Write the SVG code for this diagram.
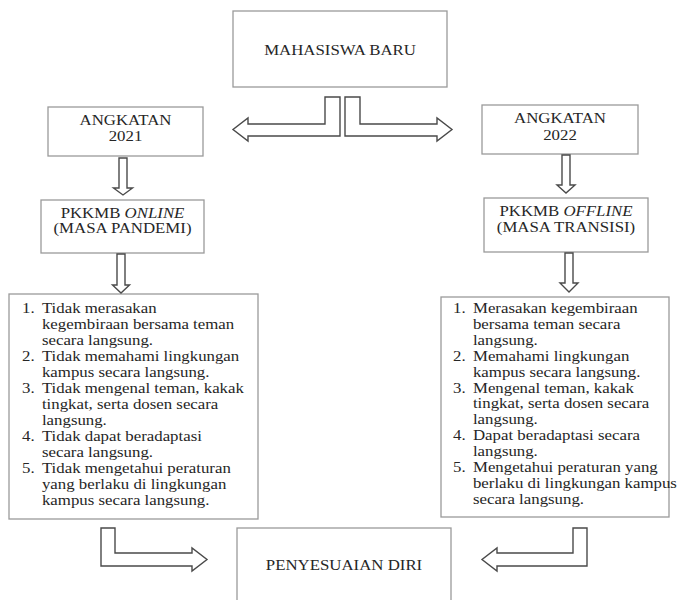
<svg xmlns="http://www.w3.org/2000/svg" width="679" height="600" viewBox="0 0 679 600">
<style>
.box{fill:#fff;stroke:#9a9a9a;stroke-width:1.3}
.t{font-family:"Liberation Serif","Times New Roman",serif;font-size:14.5px;fill:#262626}
.c{text-anchor:middle}
.arr{fill:#fff;stroke:#4a4a4a;stroke-width:1.4;stroke-linejoin:miter}
</style>
<rect width="679" height="600" fill="#fff"/>
<g id="mahasiswa-baru">
<rect class="box" x="233" y="11" width="214" height="76"/>
<text class="t c" transform="translate(340 55) scale(1.16 1)">MAHASISWA BARU</text>
</g>
<g id="angkatan-2021">
<rect class="box" x="48" y="107" width="155" height="49"/>
<text class="t c" transform="translate(125.5 125) scale(1.16 1)">ANGKATAN</text>
<text class="t c" transform="translate(125.5 141) scale(1.16 1)">2021</text>
</g>
<g id="pkkmb-online">
<rect class="box" x="41" y="200" width="163" height="53"/>
<text class="t c" transform="translate(122.5 218) scale(1.16 1)">PKKMB <tspan font-style="italic">ONLINE</tspan></text>
<text class="t c" transform="translate(122.5 233) scale(1.16 1)">(MASA PANDEMI)</text>
</g>
<g id="angkatan-2022">
<rect class="box" x="482" y="105" width="156" height="49"/>
<text class="t c" transform="translate(560 123) scale(1.16 1)">ANGKATAN</text>
<text class="t c" transform="translate(560 140) scale(1.16 1)">2022</text>
</g>
<g id="pkkmb-offline">
<rect class="box" x="484" y="198" width="164" height="54"/>
<text class="t c" transform="translate(566 216) scale(1.16 1)">PKKMB <tspan font-style="italic">OFFLINE</tspan></text>
<text class="t c" transform="translate(566 232) scale(1.16 1)">(MASA TRANSISI)</text>
</g>
<g id="list-online">
<rect class="box" x="9" y="294" width="249" height="225"/>
<text class="t" transform="translate(22 0) scale(1.16 1)">
<tspan x="0" y="313">1.</tspan><tspan x="17.2" y="313">Tidak merasakan</tspan>
<tspan x="17.2" y="329">kegembiraan bersama teman</tspan>
<tspan x="17.2" y="345">secara langsung.</tspan>
<tspan x="0" y="361">2.</tspan><tspan x="17.2" y="361">Tidak memahami lingkungan</tspan>
<tspan x="17.2" y="377">kampus secara langsung.</tspan>
<tspan x="0" y="393">3.</tspan><tspan x="17.2" y="393">Tidak mengenal teman, kakak</tspan>
<tspan x="17.2" y="409">tingkat, serta dosen secara</tspan>
<tspan x="17.2" y="425">langsung.</tspan>
<tspan x="0" y="441">4.</tspan><tspan x="17.2" y="441">Tidak dapat beradaptasi</tspan>
<tspan x="17.2" y="457">secara langsung.</tspan>
<tspan x="0" y="473">5.</tspan><tspan x="17.2" y="473">Tidak mengetahui peraturan</tspan>
<tspan x="17.2" y="489">yang berlaku di lingkungan</tspan>
<tspan x="17.2" y="505">kampus secara langsung.</tspan>
</text>
</g>
<g id="list-offline">
<rect class="box" x="441" y="297" width="228" height="220"/>
<text class="t" transform="translate(453 0) scale(1.16 1)">
<tspan x="0" y="313">1.</tspan><tspan x="17.2" y="313">Merasakan kegembiraan</tspan>
<tspan x="17.2" y="329">bersama teman secara</tspan>
<tspan x="17.2" y="345">langsung.</tspan>
<tspan x="0" y="361">2.</tspan><tspan x="17.2" y="361">Memahami lingkungan</tspan>
<tspan x="17.2" y="377">kampus secara langsung.</tspan>
<tspan x="0" y="393">3.</tspan><tspan x="17.2" y="393">Mengenal teman, kakak</tspan>
<tspan x="17.2" y="408">tingkat, serta dosen secara</tspan>
<tspan x="17.2" y="424">langsung.</tspan>
<tspan x="0" y="440">4.</tspan><tspan x="17.2" y="440">Dapat beradaptasi secara</tspan>
<tspan x="17.2" y="456">langsung.</tspan>
<tspan x="0" y="472">5.</tspan><tspan x="17.2" y="472">Mengetahui peraturan yang</tspan>
<tspan x="17.2" y="488">berlaku di lingkungan kampus</tspan>
<tspan x="17.2" y="504">secara langsung.</tspan>
</text>
</g>
<g id="penyesuaian-diri">
<rect class="box" x="237" y="528" width="214" height="90"/>
<text class="t c" transform="translate(344 570) scale(1.16 1)">PENYESUAIAN DIRI</text>
</g>
<g id="connectors">
<polygon class="arr" points="340,97 340,136 248,136 248,141 233,129.5 248,118 248,124 325,124 325,97"/>
<polygon class="arr" points="345,97 360,97 360,124 437,124 437,118 452,129.5 437,141 437,136 345,136"/>
<polygon class="arr" points="119,158 127,158 127,188 132.5,188 123,195 113.5,188 119,188"/>
<polygon class="arr" points="117,254 125,254 125,285 129.5,285 121,293 112.5,285 117,285"/>
<polygon class="arr" points="562,155 570,155 570,185 575,185 566,193 557,185 562,185"/>
<polygon class="arr" points="565,253 573,253 573,283 578,283 569,292 560,283 565,283"/>
<polygon class="arr" points="101,528 115,528 115,553 192,553 192,548 207,559.5 192,571 192,566 101,566"/>
<polygon class="arr" points="587,528 587,566 497,566 497,571 482,559.5 497,548 497,553 573,553 573,528"/>
</g>
</svg>
